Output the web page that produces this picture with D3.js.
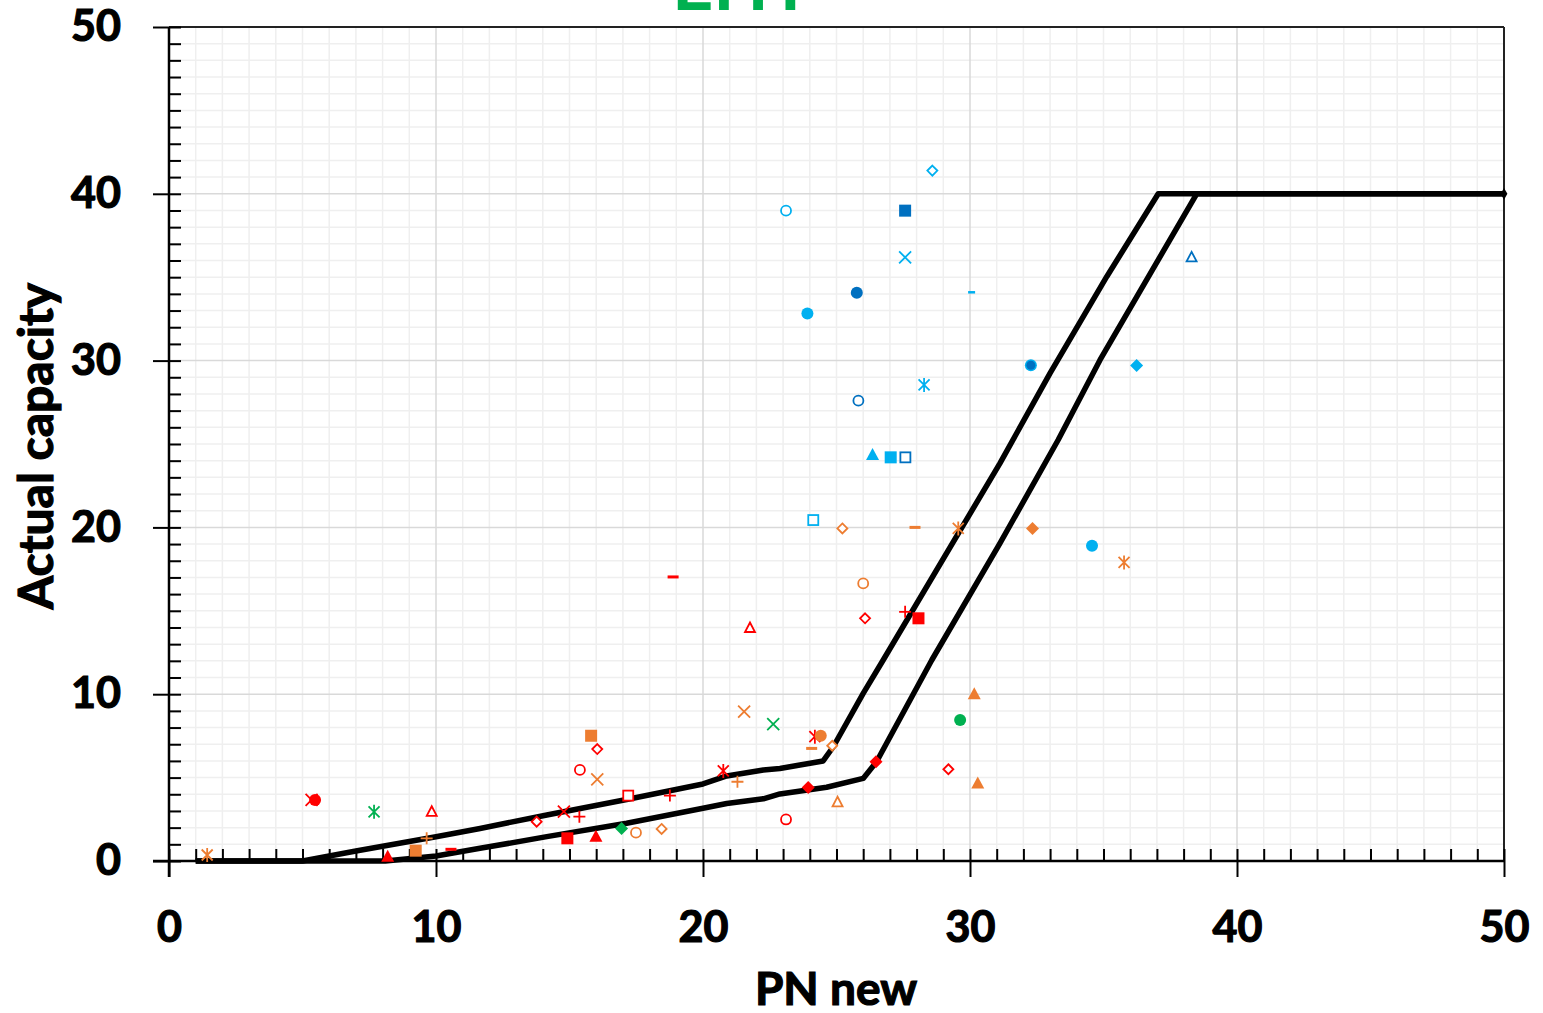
<!DOCTYPE html>
<html>
<head>
<meta charset="utf-8">
<script src="https://cdn.jsdelivr.net/npm/d3@7"></script>
<style>
  body { margin: 0; background: #fff; }
  text { font-family: Lato, "Open Sans", sans-serif; font-weight: 700; }
</style>
</head>
<body>
<script>
// chart values
var titleText = "EHT";
var xLabel = "PN new";
var yLabel = "Actual capacity";
var majorTicks = [0, 10, 20, 30, 40, 50];

// the two black limit lines [x, y]
var upperLine = [[1,0],[5,0],[7,0.6],[10,1.45],[11.65,1.95],[14.15,2.76],[17.14,3.69],[20,4.62],[20.89,5.1],
  [22.26,5.46],[22.88,5.55],[23.63,5.76],[24.5,6.0],[24.88,6.85],[26,10.05],[26.75,12.05],[31.12,23.84],
  [33,29.25],[35.12,35.03],[37.05,40],[50,40]];
var lowerLine = [[1,0],[8.1,0],[10,0.3],[11.65,0.76],[14.15,1.46],[17.14,2.26],[20,3.16],[20.89,3.45],
  [22.26,3.73],[22.88,4.02],[24.63,4.42],[26,4.95],[26.5,5.95],[28.57,12.05],[31.12,19.04],[33.3,25.24],
  [34.87,30.04],[38.49,40],[50,40]];

// scatter points per colour group: [x, y, marker]
var redPoints = [[5.34,3.66,"x"],[5.47,3.66,"circle"],[9.84,2.95,"triangleOpen"],[8.19,0.26,"triangle"],
  [10.56,0.7,"dash"],[16.04,6.71,"diamondOpen"],[15.39,5.46,"circleOpen"],[17.2,3.92,"squareOpen"],
  [18.76,3.92,"plus"],[14.79,2.96,"x"],[15.37,2.66,"plus"],[13.77,2.36,"diamondOpen"],[14.92,1.36,"square"],
  [15.99,1.46,"triangle"],[18.88,17.03,"dash"],[21.76,13.97,"triangleOpen"],[20.76,5.4,"star"],
  [23.94,4.4,"diamond"],[23.11,2.49,"circleOpen"],[24.19,7.45,"star"],[26.48,5.95,"diamond"],
  [29.19,5.5,"diamondOpen"],[26.07,14.55,"diamondOpen"],[27.57,14.94,"plus"],[28.07,14.55,"square"]];
var orangePoints = [[1.43,0.36,"star"],[9.65,1.36,"plus"],[9.24,0.62,"square"],[15.81,7.51,"square"],
  [16.04,4.9,"x"],[17.49,1.7,"circleOpen"],[18.45,1.92,"diamondOpen"],[21.54,8.95,"x"],[21.29,4.75,"plus"],
  [24.41,7.51,"circle"],[24.07,6.75,"dash"],[24.84,6.91,"diamondOpen"],[25.04,3.52,"triangleOpen"],
  [30.16,9.99,"triangle"],[30.29,4.65,"triangle"],[25.22,19.94,"diamondOpen"],[27.94,20.0,"dash"],
  [29.56,19.94,"star"],[32.34,19.94,"diamond"],[26.0,16.64,"circleOpen"],[35.77,17.9,"star"]];
var greenPoints = [[7.68,2.95,"star"],[16.95,1.95,"diamond"],[22.63,8.21,"x"],[29.63,8.45,"circle"]];
var lightBluePoints = [[28.59,41.39,"diamondOpen"],[23.11,38.99,"circleOpen"],[27.57,36.19,"x"],
  [30.06,34.11,"smallDash"],[23.91,32.83,"circle"],[28.28,28.54,"star"],[26.35,24.34,"triangle"],
  [27.03,24.2,"square"],[24.13,20.44,"squareOpen"],[36.24,29.7,"diamond"],[34.57,18.9,"circle"],
  [32.28,29.72,"circle"]];
var darkBluePoints = [[27.57,38.99,"square"],[25.76,34.07,"circle"],[32.28,29.72,"dot"],
  [25.82,27.6,"circleOpen"],[27.58,24.2,"squareOpen"],[38.3,36.19,"triangleOpen"]];

var groups = [
  {pts: redPoints, color: "#FF0000"},
  {pts: orangePoints, color: "#ED7D31"},
  {pts: greenPoints, color: "#00B050"},
  {pts: lightBluePoints, color: "#00B0F0"},
  {pts: darkBluePoints, color: "#0070C0"}
];

var svgWidth = 1543, svgHeight = 1013;
var margin = {top: 27, right: 39, bottom: 152, left: 169};
var chartWidth = svgWidth - margin.left - margin.right;
var chartHeight = svgHeight - margin.top - margin.bottom;

var svg = d3.select("body").append("svg")
  .attr("width", svgWidth)
  .attr("height", svgHeight);

var chartGroup = svg.append("g")
  .attr("transform", `translate(${margin.left}, ${margin.top})`);

var x = d3.scaleLinear().domain([0, 50]).range([0, chartWidth]);
var y = d3.scaleLinear().domain([0, 50]).range([chartHeight, 0]);

// grid: minor every 1, major every 10
var minorVals = d3.range(0, 51).filter(d => d % 10 != 0);
chartGroup.append("g").selectAll("line.vm").data(minorVals).enter().append("line")
  .attr("x1", d => x(d)).attr("x2", d => x(d)).attr("y1", 0).attr("y2", chartHeight)
  .attr("stroke", "#EFEFEF").attr("stroke-width", 1.5);
chartGroup.append("g").selectAll("line.hm").data(minorVals).enter().append("line")
  .attr("y1", d => y(d)).attr("y2", d => y(d)).attr("x1", 0).attr("x2", chartWidth)
  .attr("stroke", "#EFEFEF").attr("stroke-width", 1.5);
chartGroup.append("g").selectAll("line.vM").data(majorTicks).enter().append("line")
  .attr("x1", d => x(d)).attr("x2", d => x(d)).attr("y1", 0).attr("y2", chartHeight)
  .attr("stroke", "#D9D9D9").attr("stroke-width", 1.5);
chartGroup.append("g").selectAll("line.hM").data(majorTicks).enter().append("line")
  .attr("y1", d => y(d)).attr("y2", d => y(d)).attr("x1", 0).attr("x2", chartWidth)
  .attr("stroke", "#D9D9D9").attr("stroke-width", 1.5);

// border top and right
chartGroup.append("line").attr("x1", 0).attr("x2", chartWidth).attr("y1", 0).attr("y2", 0)
  .attr("stroke", "#222").attr("stroke-width", 2);
chartGroup.append("line").attr("x1", chartWidth).attr("x2", chartWidth).attr("y1", 0).attr("y2", chartHeight)
  .attr("stroke", "#222").attr("stroke-width", 2);

// minor ticks point inward
var xMinor = chartGroup.append("g")
  .attr("transform", `translate(0, ${chartHeight})`)
  .call(d3.axisBottom(x).tickValues(d3.range(0, 51)).tickSize(-12).tickFormat(""));
var yMinor = chartGroup.append("g")
  .call(d3.axisLeft(y).tickValues(d3.range(0, 51)).tickSize(-12).tickFormat(""));

// major ticks outward, with labels
var xAxis = chartGroup.append("g")
  .attr("transform", `translate(0, ${chartHeight})`)
  .call(d3.axisBottom(x).tickValues(majorTicks).tickSize(16).tickPadding(34).tickSizeOuter(16));
var yAxis = chartGroup.append("g")
  .call(d3.axisLeft(y).tickValues(majorTicks).tickSize(16).tickPadding(32).tickSizeOuter(16));

[xMinor, yMinor, xAxis, yAxis].forEach(function(g) {
  g.selectAll("path").attr("stroke", "#000").attr("stroke-width", 2);
  g.selectAll("line").attr("stroke", "#000").attr("stroke-width", 2);
});
xMinor.select(".domain").remove();
yMinor.select(".domain").remove();
xAxis.select(".domain").remove();
yAxis.select(".domain").remove();
// axis lines, extended past origin like the reference
chartGroup.append("line").attr("x1", -16).attr("x2", chartWidth).attr("y1", chartHeight).attr("y2", chartHeight)
  .attr("stroke", "#000").attr("stroke-width", 2.5);
chartGroup.append("line").attr("x1", 0).attr("x2", 0).attr("y1", 0).attr("y2", chartHeight + 16)
  .attr("stroke", "#000").attr("stroke-width", 2.5);

[xAxis, yAxis].forEach(function(g) {
  g.selectAll("text").attr("fill", "#000").style("font-size", "43px")
    .style("font-family", "Lato, 'Open Sans', sans-serif").style("font-weight", 700)
    .attr("stroke", "#000").attr("stroke-width", 1.2);
});

// limit lines
var line = d3.line().x(d => x(d[0])).y(d => y(d[1]));
[upperLine, lowerLine].forEach(function(data) {
  chartGroup.append("path").datum(data)
    .attr("d", line)
    .attr("fill", "none").attr("stroke", "#000").attr("stroke-width", 5.5)
    .attr("stroke-linejoin", "round");
});
chartGroup.append("path")
  .attr("d", d3.symbol(d3.symbolDiamond, 40)())
  .attr("transform", `translate(${x(50)}, ${y(40)})`)
  .attr("fill", "#000");

// markers
function drawMarker(g, d, color) {
  var m = d[2];
  var s = g.append("g").attr("transform", `translate(${x(d[0])}, ${y(d[1])})`);
  if (m == "circle") {
    s.append("circle").attr("r", 6).attr("fill", color);
  } else if (m == "dot") {
    s.append("circle").attr("r", 4.5).attr("fill", color);
  } else if (m == "circleOpen") {
    s.append("circle").attr("r", 5).attr("fill", "#fff").attr("stroke", color).attr("stroke-width", 1.8);
  } else if (m == "square") {
    s.append("rect").attr("x", -6).attr("y", -6).attr("width", 12).attr("height", 12).attr("fill", color);
  } else if (m == "squareOpen") {
    s.append("rect").attr("x", -5).attr("y", -5).attr("width", 10).attr("height", 10)
      .attr("fill", "#fff").attr("stroke", color).attr("stroke-width", 1.8);
  } else if (m == "diamond") {
    s.append("path").attr("d", "M0,-6.5L6.5,0L0,6.5L-6.5,0Z").attr("fill", color);
  } else if (m == "diamondOpen") {
    s.append("path").attr("d", "M0,-5L5,0L0,5L-5,0Z").attr("fill", "#fff")
      .attr("stroke", color).attr("stroke-width", 1.8);
  } else if (m == "triangle") {
    s.append("path").attr("d", "M0,-7L6.5,5L-6.5,5Z").attr("fill", color);
  } else if (m == "triangleOpen") {
    s.append("path").attr("d", "M0,-5.5L5,4L-5,4Z").attr("fill", "#fff")
      .attr("stroke", color).attr("stroke-width", 1.8);
  } else if (m == "x") {
    s.append("path").attr("d", "M-6,-6L6,6M-6,6L6,-6").attr("stroke", color).attr("stroke-width", 1.8);
  } else if (m == "star") {
    s.append("path").attr("d", "M-5.5,-5.5L5.5,5.5M-5.5,5.5L5.5,-5.5M0,-7L0,7").attr("stroke", color).attr("stroke-width", 1.8);
  } else if (m == "plus") {
    s.append("path").attr("d", "M-6,0L6,0M0,-6L0,6").attr("stroke", color).attr("stroke-width", 1.8);
  } else if (m == "dash") {
    s.append("rect").attr("x", -5.5).attr("y", -1.5).attr("width", 11).attr("height", 3).attr("fill", color);
  } else if (m == "smallDash") {
    s.append("rect").attr("x", -3.5).attr("y", -1).attr("width", 7).attr("height", 2.5).attr("fill", color);
  }
}

var markerGroup = chartGroup.append("g");
groups.forEach(function(grp) {
  grp.pts.forEach(function(d) { drawMarker(markerGroup, d, grp.color); });
});

// titles (the chart title is cut off at the top edge, as in the source)
svg.append("text")
  .attr("x", 742).attr("y", 10)
  .attr("text-anchor", "middle")
  .attr("fill", "#00B050")
  .style("font-size", "72px")
  .text(titleText);

svg.append("text")
  .attr("x", 836).attr("y", 1005)
  .attr("text-anchor", "middle")
  .attr("fill", "#000")
  .attr("stroke", "#000").attr("stroke-width", 1.2)
  .style("font-size", "46px")
  .text(xLabel);

svg.append("text")
  .attr("transform", "translate(53, 446) rotate(-90)")
  .attr("text-anchor", "middle")
  .attr("fill", "#000")
  .attr("stroke", "#000").attr("stroke-width", 1.2)
  .style("font-size", "48px")
  .text(yLabel);
</script>
</body>
</html>
